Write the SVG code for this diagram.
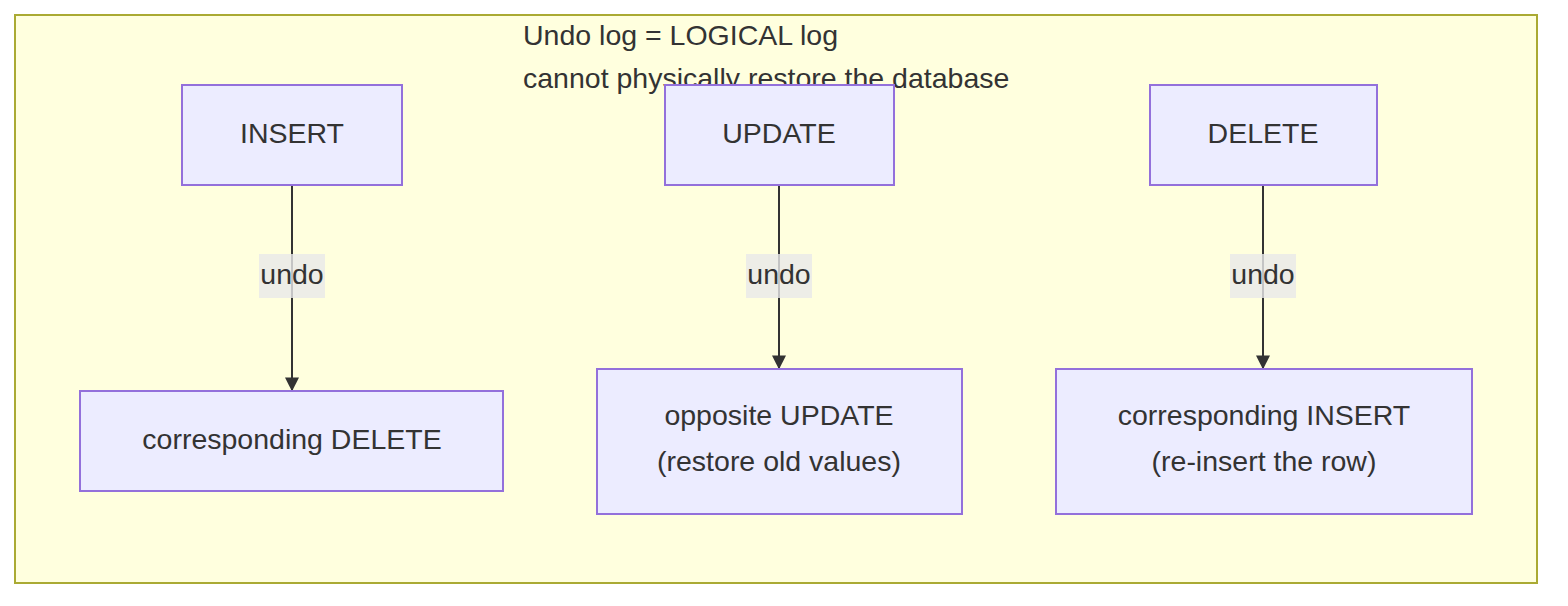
<svg xmlns="http://www.w3.org/2000/svg" width="1568" height="606" viewBox="0 0 1568 606">
<style>
text{font-family:"Liberation Sans",Arial,sans-serif;font-size:28.5px;fill:#333;}
.n rect{fill:#ececff;stroke:#9370db;stroke-width:2;}
.n text{text-anchor:middle;dominant-baseline:central;}
.e line{stroke:#333;stroke-width:2;}
.lb rect{fill:#e8e8e8;opacity:0.8;}
.lb text{text-anchor:middle;dominant-baseline:central;}
</style>
<defs><marker id="a" viewBox="0 0 10 10" refX="10" refY="5" markerWidth="7" markerHeight="7" markerUnits="userSpaceOnUse" orient="auto"><path d="M0,0L10,5L0,10z" fill="#333"/></marker>
<marker id="ah" viewBox="0 0 10 10" refX="9" refY="5" markerWidth="14" markerHeight="14" markerUnits="userSpaceOnUse" orient="auto"><path d="M0,0L10,5L0,10z" fill="#333"/></marker></defs>
<rect x="15" y="15" width="1522" height="568" fill="#ffffde" stroke="#aaaa33" stroke-width="2"/>
<text x="523" y="45">Undo log = LOGICAL log</text>
<text x="523" y="88">cannot physically restore the database</text>
<g class="e">
<line x1="292" y1="185" x2="292" y2="390" marker-end="url(#ah)"/>
<line x1="779" y1="185" x2="779" y2="368" marker-end="url(#ah)"/>
<line x1="1263" y1="185" x2="1263" y2="368" marker-end="url(#ah)"/>
<g class="lb"><rect x="259" y="254" width="66" height="44"/><text x="292" y="274">undo</text></g>
<g class="lb"><rect x="746" y="254" width="66" height="44"/><text x="779" y="274">undo</text></g>
<g class="lb"><rect x="1230" y="254" width="66" height="44"/><text x="1263" y="274">undo</text></g>
</g>
<g id="insert" class="n"><rect x="182" y="85" width="220" height="100"/><text x="292" y="133">INSERT</text></g>
<g id="update" class="n"><rect x="665" y="85" width="229" height="100"/><text x="779" y="133">UPDATE</text></g>
<g id="delete" class="n"><rect x="1150" y="85" width="227" height="100"/><text x="1263" y="133">DELETE</text></g>
<g id="cdelete" class="n"><rect x="80" y="391" width="423" height="100"/><text x="292" y="439">corresponding DELETE</text></g>
<g id="oupdate" class="n"><rect x="597" y="369" width="365" height="145"/><text x="779" y="415">opposite UPDATE</text><text x="779" y="461">(restore old values)</text></g>
<g id="cinsert" class="n"><rect x="1056" y="369" width="416" height="145"/><text x="1264" y="415">corresponding INSERT</text><text x="1264" y="461">(re-insert the row)</text></g>
</svg>
